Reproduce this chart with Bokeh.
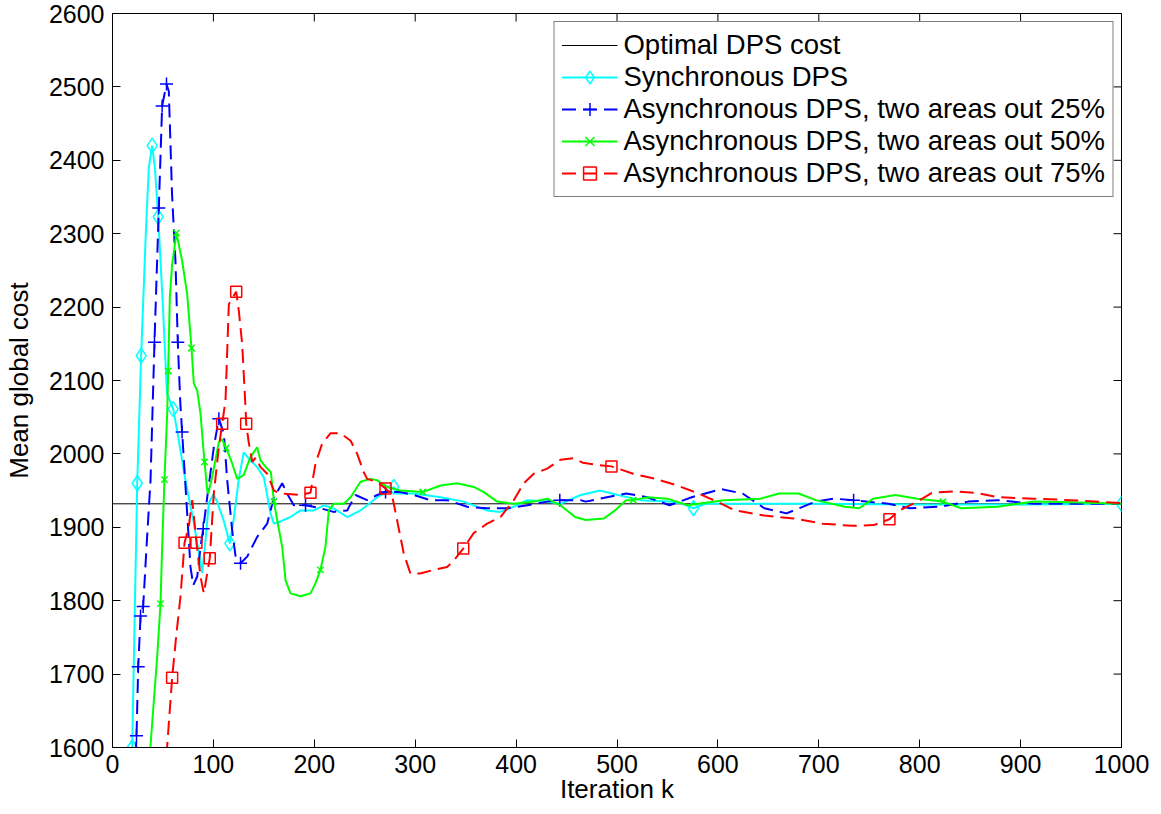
import math
from bokeh.plotting import figure
from bokeh.models import FixedTicker, Range1d
from bokeh.embed import file_html
from bokeh.resources import INLINE

# ---------------- data ----------------
optimal_cost = 1932
k_span = [0, 1000]

sync_k = [19.5, 24.5, 28.4, 33, 36, 39.3, 42, 45.3, 50, 54, 60.2, 64, 72.3, 80.6, 85, 88.9, 92, 95.5, 100,
          103.7, 110, 116.3, 120, 125, 130, 136.8, 143.4, 150, 156.6, 160, 166.5, 176.4, 186.3, 199.5,
          209.4, 220, 232.6, 245.8, 262.3, 275, 278.8, 282, 298.6, 325, 348, 371, 384, 397.7, 411,
          430.8, 444, 463.8, 483.6, 501, 523, 552, 565, 575.8, 588, 620, 700, 800, 900, 1000]
sync_cost = [1600, 1960, 2134, 2300, 2390, 2420, 2390, 2323, 2200, 2082, 2061, 2032, 1964, 1906, 1870,
             1838, 1880, 1933, 1945, 1935, 1910, 1878, 1910, 1964, 2002, 1991, 1982, 1968, 1919, 1905,
             1908, 1914, 1923, 1923, 1930, 1925, 1914, 1923, 1941, 1950, 1955, 1946, 1946, 1941, 1935,
             1923, 1921, 1928, 1937, 1935, 1932, 1944, 1950, 1944, 1937, 1935, 1932, 1926, 1932, 1932,
             1932, 1931, 1931, 1932]
sync_mk_k = [19.5, 24.5, 28.4, 39.3, 45.3, 60.2, 116.3, 278.8, 575.8, 1000]
sync_mk_cost = [1600, 1960, 2134, 2420, 2323, 2061, 1878, 1955, 1926, 1932]

a25_k = [22, 23.8, 25.5, 27.8, 30.4, 34, 37.7, 41.6, 45.9, 49.2, 53.5, 55.8, 57.5, 59, 62.4, 64.7, 67.4,
         69, 74, 77.3, 80, 84, 87.2, 89.9, 93.9, 100.4, 105.4, 110.3, 113.7, 118.6, 122, 126.9, 133.5,
         143.4, 153.3, 160, 168.2, 173, 179.7, 191.3, 206, 219, 232.6, 240.8, 252.4, 262.3, 270.6,
         285.4, 298.6, 315, 331.7, 351.5, 371.3, 391, 411, 430.8, 443.3, 463.8, 469, 490, 509, 530,
         552, 574, 603, 624.5, 646, 668, 697, 715, 734.5, 769, 790.5, 819.6, 848, 877, 913, 950, 1000]
a25_cost = [1560, 1616, 1710, 1779, 1792, 1880, 1964, 2152, 2335, 2474, 2504, 2494, 2421, 2354, 2263,
            2152, 2064, 2030, 1919, 1846, 1821, 1833, 1873, 1898, 1941, 2009, 2048, 2028, 1964, 1896,
            1860, 1851, 1860, 1887, 1905, 1941, 1960, 1946, 1930, 1930, 1926, 1921, 1923, 1944, 1937,
            1944, 1948, 1948, 1944, 1937, 1937, 1928, 1926, 1926, 1930, 1935, 1937, 1937, 1935, 1941,
            1946, 1941, 1930, 1941, 1952, 1946, 1926, 1919, 1935, 1939, 1937, 1932, 1926, 1928, 1935,
            1937, 1932, 1932, 1932]
a25_mk_k = [23.8, 25.5, 27.8, 30.4, 41.6, 45.9, 49.2, 53.5, 64.7, 69, 89.9, 105.4, 126.9, 191.3, 270.6,
            443.3, 734.5]
a25_mk_cost = [1616, 1710, 1779, 1792, 2152, 2335, 2474, 2504, 2152, 2030, 1898, 2048, 1851, 1930, 1948,
               1937, 1937]

a50_k = [37, 37.7, 39.3, 44.3, 47.6, 49.2, 51.5, 54.2, 55.2, 56.8, 59.1, 63.4, 69, 74, 78.3, 80.6, 84,
         87.2, 91.2, 93.9, 95, 98.8, 105.4, 108.5, 112.7, 118.6, 123.6, 130, 136.8, 143.4, 146.7, 153.3,
         157, 160, 163.2, 168.2, 171.5, 176.4, 186.3, 196.2, 201.2, 206.1, 211, 214.4, 219.3, 229.2,
         236, 245.8, 255.7, 262.3, 272.2, 285.4, 307.5, 325, 341.6, 358, 368, 381.3, 397.7, 417.5,
         430.8, 444, 458.5, 469, 487, 498, 509, 516, 530.6, 550, 570, 606, 642, 660.6, 680, 697, 726,
         740, 754, 776, 797.6, 823, 841, 877, 913, 950, 1000]
a50_cost = [1560, 1602, 1633, 1724, 1796, 1873, 1965, 2055, 2113, 2213, 2258, 2301, 2263, 2218, 2144,
            2096, 2086, 2055, 1989, 1950, 1946, 1969, 2016, 2020, 2008, 1987, 1966, 1971, 1996, 2009,
            1991, 1980, 1975, 1935, 1910, 1873, 1828, 1810, 1806, 1810, 1824, 1842, 1873, 1923, 1932,
            1932, 1941, 1962, 1966, 1964, 1955, 1950, 1948, 1957, 1960, 1955, 1948, 1935, 1932, 1935,
            1939, 1930, 1914, 1910, 1912, 1923, 1937, 1937, 1941, 1939, 1930, 1937, 1939, 1946, 1946,
            1937, 1928, 1926, 1939, 1944, 1939, 1935, 1926, 1928, 1935, 1934, 1932]
a50_mk_k = [47.6, 51.5, 55.2, 63.4, 78.3, 91.2, 112.7, 160, 206.1, 307.5, 516, 823]
a50_mk_cost = [1796, 1965, 2113, 2301, 2144, 1989, 2008, 1935, 1842, 1948, 1937, 1935]

a75_k = [53.5, 54.2, 59.1, 63, 67.4, 71.4, 75.6, 79, 81, 83.2, 87.2, 90.5, 93, 96.4, 100.4, 105.4, 108.7,
         112, 115.3, 122.6, 125.2, 128.5, 131.8, 132.5, 135, 138.5, 142, 146.7, 153.3, 160, 166.5,
         186.3, 196.2, 201.2, 207.8, 216, 226, 236, 242.5, 249, 252.4, 262, 270.6, 277, 282, 288.7,
         295.3, 305, 318.4, 331.7, 338.3, 347.6, 358, 371.3, 384.5, 397.7, 407.6, 417.5, 430.8, 444,
         457, 466, 480, 494.5, 516, 538, 559.6, 581, 599, 617, 646, 675, 704, 733, 754.5, 770, 779.8,
         797.8, 812, 834, 855.6, 877, 913, 949, 1000]
a75_cost = [1560, 1602, 1695, 1750, 1806, 1879, 1901, 1937, 1910, 1879, 1833, 1810, 1830, 1858, 1946,
            2009, 2041, 2073, 2204, 2221, 2195, 2150, 2064, 2041, 2016, 1989, 1995, 1982, 1973, 1950,
            1946, 1944, 1947, 1987, 2014, 2028, 2028, 2018, 2000, 1975, 1966, 1962, 1953, 1944, 1910,
            1864, 1837, 1837, 1842, 1846, 1855, 1871, 1892, 1905, 1914, 1937, 1960, 1973, 1980, 1992,
            1994, 1988, 1985, 1983, 1973, 1966, 1957, 1946, 1935, 1923, 1916, 1912, 1905, 1902, 1903,
            1911, 1923, 1935, 1947, 1949, 1947, 1941, 1939, 1937, 1933]
a75_mk_k = [59.1, 71.4, 83.2, 96.4, 108.7, 122.6, 132.5, 196.2, 270.6, 347.6, 494.5, 770]
a75_mk_cost = [1695, 1879, 1879, 1858, 2041, 2221, 2041, 1947, 1953, 1871, 1983, 1911]

x_ticks = list(range(0, 1001, 100))
y_ticks = list(range(1600, 2601, 100))
x_lo, x_hi = 0, 1000
y_lo, y_hi = 1600, 2600

# ---------------- figure ----------------
FONT = "Liberation Sans"
p = figure(width=1150, height=806, output_backend="svg", toolbar_location=None,
           x_range=Range1d(x_lo, x_hi), y_range=Range1d(y_lo, y_hi),
           min_border_left=112, min_border_right=29, min_border_top=13, min_border_bottom=58)
p.xgrid.visible = False
p.ygrid.visible = False
p.outline_line_color = "black"
p.outline_line_width = 1
p.background_fill_color = "white"
p.border_fill_color = "white"

# tick marks on the top and right edges of the box (MATLAB "box on")
p.scatter(x_ticks, [y_hi] * len(x_ticks), marker="dash", angle=math.pi / 2, size=16,
          line_color="black", line_width=1)
p.scatter([x_hi] * len(y_ticks), y_ticks, marker="dash", size=16, line_color="black", line_width=1)

p.line(k_span, [optimal_cost, optimal_cost], line_color="black", line_width=1,
       legend_label="Optimal DPS cost")

p.line(sync_k, sync_cost, line_color="#00FFFF", line_width=2, legend_label="Synchronous DPS")
p.scatter(sync_mk_k, sync_mk_cost, marker="diamond", size=15, line_color="#00FFFF", line_width=1.5,
          fill_color=None, legend_label="Synchronous DPS")

lab25 = "Asynchronous DPS, two areas out 25%"
p.line(a25_k, a25_cost, line_color="#0000FF", line_width=2, line_dash="14 7", legend_label=lab25)
p.scatter(a25_mk_k, a25_mk_cost, marker="cross", size=13, line_color="#0000FF", line_width=1.5,
          legend_label=lab25)

lab50 = "Asynchronous DPS, two areas out 50%"
p.line(a50_k, a50_cost, line_color="#00FF00", line_width=2, legend_label=lab50)
p.scatter(a50_mk_k, a50_mk_cost, marker="x", size=9, line_color="#00FF00", line_width=1.5,
          legend_label=lab50)

lab75 = "Asynchronous DPS, two areas out 75%"
p.line(a75_k, a75_cost, line_color="#FF0000", line_width=2, line_dash="14 7", legend_label=lab75)
p.scatter(a75_mk_k, a75_mk_cost, marker="square", size=11, line_color="#FF0000", line_width=1.5,
          fill_color=None, legend_label=lab75)

# axes
for ax, ticks in ((p.xaxis[0], x_ticks), (p.yaxis[0], y_ticks)):
    ax.ticker = FixedTicker(ticks=ticks)
    ax.major_tick_in = 8
    ax.major_tick_out = 0
    ax.minor_tick_in = 0
    ax.minor_tick_out = 0
    ax.minor_tick_line_color = None
    ax.axis_line_color = "black"
    ax.major_tick_line_color = "black"
    ax.major_label_text_font = FONT
    ax.major_label_text_font_size = "25px"
    ax.major_label_text_color = "black"
    ax.axis_label_text_font = FONT
    ax.axis_label_text_font_size = "26px"
    ax.axis_label_text_font_style = "normal"
    ax.axis_label_text_color = "black"

p.xaxis[0].axis_label = "Iteration k"
p.yaxis[0].axis_label = "Mean global cost"
p.xaxis[0].major_label_standoff = 7
p.xaxis[0].axis_label_standoff = -2
p.yaxis[0].major_label_standoff = 8
p.yaxis[0].axis_label_standoff = 12

leg = p.legend[0]
leg.location = "top_right"
leg.margin = 8
leg.padding = 7
leg.spacing = 0
leg.glyph_width = 56
leg.glyph_height = 32
leg.label_height = 32
leg.label_standoff = 6
leg.label_text_font = FONT
leg.label_text_font_size = "27.5px"
leg.label_text_color = "black"
leg.border_line_color = "black"
leg.border_line_width = 1
leg.background_fill_alpha = 1.0

open("out.html", "w").write(file_html(p, INLINE))
